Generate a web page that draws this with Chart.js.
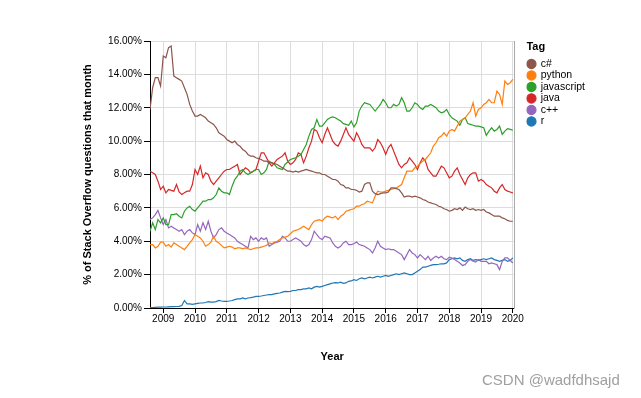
<!DOCTYPE html>
<html>
<head>
<meta charset="utf-8">
<title>Stack Overflow questions by tag</title>
<script src="https://cdn.jsdelivr.net/npm/chart.js@4.4.1/dist/chart.umd.min.js"></script>
<style>
  html, body { margin: 0; padding: 0; background: #fff; }
  #wrap { position: relative; width: 641px; height: 398px; }
  #mark { position: absolute; left: 482px; top: 371px; font: 15px "Liberation Sans", Arial, sans-serif; color: #a0a0a0; white-space: nowrap; }
</style>
</head>
<body>
<div id="wrap">
  <canvas id="chart" width="641" height="398"></canvas>
  <div id="mark">CSDN @wadfdhsajd</div>
</div>
<script>
// monthly share of questions (%), first month is Aug 2008, last is Jan 2020
const startYear = 2008;
const startMonth = 8;

const tags = ['c#', 'python', 'javascript', 'java', 'c++', 'r'];
const colors = ['#8c564b', '#ff7f0e', '#2ca02c', '#d62728', '#9467bd', '#1f77b4'];

const csharp = [
  11.9, 13.2, 13.8, 13.8, 13.3,
  15.1, 15.0, 15.6, 15.7, 13.9, 13.8, 13.7, 13.6, 13.2, 12.8, 12.2, 11.8,
  11.5, 11.5, 11.6, 11.5, 11.4, 11.2, 11.1, 11.0, 10.8, 10.5, 10.4, 10.3,
  10.1, 10.0, 9.9, 10.0, 9.8, 9.7, 9.5, 9.4, 9.2, 9.1, 9.1, 9.0,
  8.95, 8.9, 8.8, 8.8, 8.7, 8.7, 8.65, 8.6, 8.5, 8.4, 8.3, 8.2,
  8.2, 8.15, 8.2, 8.15, 8.2, 8.25, 8.3, 8.25, 8.2, 8.15, 8.1, 8.1,
  8.0, 8.0, 7.9, 7.8, 7.7, 7.7, 7.6, 7.4, 7.35, 7.2, 7.2, 7.1,
  7.1, 7.05, 6.95, 7.0, 7.4, 7.5, 7.5, 7.0, 6.85, 6.8, 6.85, 6.9,
  6.9, 6.95, 7.2, 7.2, 7.15, 7.1, 6.9, 6.65, 6.7, 6.7, 6.65, 6.7,
  6.65, 6.6, 6.5, 6.45, 6.35, 6.3, 6.25, 6.2, 6.1, 6.05, 5.95, 5.9,
  5.8, 5.85, 5.95, 5.9, 6.0, 5.85, 6.05, 5.95, 5.9, 5.95, 5.85, 5.9,
  5.85, 5.9, 5.75, 5.7, 5.6, 5.5, 5.5, 5.5, 5.4, 5.35, 5.25, 5.2,
  5.2
];

const python = [
  3.8, 3.8, 3.6, 3.7, 3.95,
  3.95, 3.7, 3.8, 3.65, 3.9, 3.8, 3.7, 3.6, 3.5, 3.7, 3.9, 4.1,
  4.4, 4.3, 4.2, 4.0, 3.7, 3.8, 3.95, 4.3, 4.0, 3.9, 3.75, 3.6,
  3.65, 3.7, 3.65, 3.55, 3.6, 3.6, 3.55, 3.6, 3.55, 3.5, 3.55, 3.6,
  3.6, 3.65, 3.7, 3.75, 3.9, 3.85, 3.95, 4.0, 4.1, 4.2, 4.25, 4.3,
  4.45, 4.6, 4.65, 4.7, 4.8, 4.9, 4.8, 4.7, 5.0, 5.2, 5.25, 5.3,
  5.2, 5.4, 5.5, 5.45, 5.4, 5.5, 5.3, 5.5, 5.6, 5.8, 5.85, 5.9,
  5.95, 6.1, 6.1, 6.2, 6.25, 6.4, 6.35, 6.3, 6.7, 7.0, 6.95, 6.95,
  7.0, 7.05, 7.1, 7.15, 7.2, 7.3, 7.4, 7.8, 8.2, 8.2, 8.2, 8.4,
  8.5, 8.65, 8.8, 8.9, 9.1, 9.3, 9.7, 9.9, 10.2, 10.3, 10.5, 10.3,
  10.6, 10.7, 10.6, 10.9, 11.2, 11.3, 11.4, 11.6, 11.8, 12.3, 11.5, 11.9,
  12.0, 12.2, 12.3, 12.5, 12.3, 12.3, 13.0, 12.8, 12.2, 13.6, 13.4, 13.5,
  13.7
];

const javascript = [
  4.6, 5.1, 4.7, 5.3, 5.1,
  5.4, 5.0, 5.0, 5.6, 5.6, 5.65, 5.5, 5.4, 5.8, 6.0, 6.1, 5.9,
  5.8, 6.0, 6.2, 6.4, 6.4, 6.5, 6.5, 6.6, 6.8, 7.2, 7.0, 6.9,
  6.9, 6.8, 7.3, 7.7, 7.9, 8.2, 8.3, 8.1, 8.0, 8.1, 8.2, 8.3,
  8.3, 8.0, 8.1, 8.3, 8.8, 8.7, 8.6, 8.4, 8.35, 8.3, 8.6, 8.75,
  8.9, 8.95, 9.0, 9.1, 9.2, 9.5, 9.8, 10.3, 10.7, 10.8, 11.3, 10.9,
  10.9, 11.1, 11.3, 11.4, 11.45, 11.4, 11.3, 11.2, 11.05, 11.0, 10.95, 11.2,
  10.85, 11.1, 11.8, 12.1, 12.3, 12.25, 12.2, 12.0, 11.8, 12.0, 12.2, 12.5,
  12.3, 12.0, 12.0, 12.2, 12.1, 12.2, 12.6, 12.3, 11.8, 11.8, 12.0, 12.3,
  12.2, 12.0, 11.9, 12.1, 12.1, 12.2, 12.1, 12.0, 11.8, 11.7, 11.75, 11.9,
  11.6, 11.4, 11.3, 11.2, 10.95, 11.3, 11.4, 11.05, 11.0, 10.95, 10.9, 10.9,
  10.85, 10.8, 10.35, 10.6, 10.8, 10.6, 10.7, 10.9, 10.4, 10.6, 10.75, 10.7,
  10.65
];

const java = [
  8.2, 8.1, 8.0, 7.6, 7.1,
  7.3, 6.9, 7.1, 7.05, 7.0, 7.4, 6.95, 6.8, 6.9, 7.0, 7.0, 7.4,
  8.3, 8.0, 8.5, 7.8, 8.1, 8.0, 7.6, 7.4, 7.6, 7.8, 8.0, 8.2,
  8.3, 8.3, 8.4, 8.5, 8.6, 8.0, 8.2, 8.4, 8.3, 8.1, 8.2, 8.3,
  8.8, 9.3, 9.3, 9.0, 8.7, 8.5, 8.7, 8.9, 9.0, 9.1, 9.3, 8.8,
  8.6, 8.7, 8.9, 9.3, 9.2, 8.7, 9.1, 9.6, 10.0, 10.7, 10.6, 10.2,
  9.9, 10.4, 10.8, 10.4, 10.0, 9.8, 9.7, 10.0, 10.4, 10.8, 10.4, 10.2,
  10.0, 10.5, 10.2, 9.8, 9.6, 9.6, 9.6, 9.4, 9.6, 10.1, 9.9, 9.6,
  9.2, 9.6, 9.8, 9.4, 9.0, 8.6, 8.4, 8.6, 8.7, 9.0, 8.8, 8.6,
  8.3, 8.7, 9.0, 8.8, 8.3, 8.1, 7.9, 7.9, 8.2, 8.5, 8.4, 8.1,
  7.8, 7.9, 8.2, 8.4, 8.0, 7.7, 7.4, 7.8, 8.0, 8.1, 8.1, 7.6,
  7.7, 7.6, 7.4, 7.3, 7.2, 7.0, 6.9, 7.2, 7.4, 7.1, 7.0, 6.95,
  6.9
];

const cpp = [
  5.3, 5.4, 5.6, 5.85, 5.4,
  5.0, 5.3, 4.8, 4.9, 4.8, 4.7, 4.6, 4.7, 4.4, 4.6, 4.7, 4.5,
  4.4, 5.0, 4.6, 5.1, 4.7, 5.2, 4.6, 4.2, 4.4, 4.7, 4.8, 4.6,
  4.5, 4.4, 4.3, 4.2, 4.0, 3.9, 3.8, 3.7, 3.6, 4.3, 4.1, 4.2,
  4.0, 4.2, 4.1, 4.2, 3.7, 3.8, 3.9, 3.95, 4.0, 4.3, 4.2, 4.0,
  4.0, 4.1, 4.2, 4.1, 4.0, 3.8, 3.7, 3.8, 4.1, 4.6, 4.4, 4.2,
  4.1, 4.3, 4.25, 4.2, 3.9, 3.7, 3.6, 3.7, 3.9, 4.0, 3.8, 3.8,
  3.85, 3.95, 3.8, 3.75, 3.7, 3.6, 3.5, 3.3, 3.6, 4.0, 3.7, 3.6,
  3.5, 3.55, 3.5, 3.5, 3.4, 3.3, 3.2, 2.9, 3.2, 3.5, 3.3, 3.2,
  3.0, 3.2, 3.05, 2.9, 3.1, 2.85, 3.0, 3.1, 3.0, 3.1, 2.95, 2.9,
  3.05, 3.0, 2.9, 2.8, 2.7, 2.55, 2.6, 2.8, 2.9, 2.8, 2.75, 2.9,
  2.8, 2.8, 2.8, 2.65, 2.7, 2.65, 2.6, 2.3, 2.8, 3.0, 3.0, 2.85,
  2.7
];

const r = [
  0.02, 0.03, 0.04, 0.05, 0.05,
  0.06, 0.06, 0.07, 0.08, 0.08, 0.09, 0.1, 0.15, 0.45, 0.25, 0.25, 0.22,
  0.25, 0.28, 0.3, 0.3, 0.33, 0.38, 0.35, 0.35, 0.38, 0.45, 0.42, 0.4,
  0.4, 0.42, 0.45, 0.5, 0.55, 0.55, 0.6, 0.55, 0.6, 0.62, 0.65, 0.7,
  0.7, 0.72, 0.75, 0.78, 0.8, 0.8, 0.85, 0.88, 0.9, 0.95, 1.0, 0.98,
  1.0, 1.05, 1.05, 1.1, 1.1, 1.15, 1.15, 1.2, 1.15, 1.25, 1.3, 1.25,
  1.3, 1.35, 1.4, 1.45, 1.5, 1.52, 1.5, 1.55, 1.48, 1.5, 1.6, 1.62,
  1.7, 1.65, 1.75, 1.8, 1.75, 1.8, 1.85, 1.8, 1.85, 1.9, 1.85, 1.9,
  1.95, 1.9, 1.95, 2.0, 2.05, 2.0, 2.05, 2.1, 2.05, 2.0, 2.0, 2.1,
  2.2, 2.3, 2.45, 2.45, 2.5, 2.55, 2.6, 2.6, 2.62, 2.65, 2.65, 2.7,
  2.9, 2.95, 3.0, 2.95, 3.0, 2.85, 2.8, 2.9, 2.95, 2.85, 2.9, 2.85,
  2.9, 2.95, 2.9, 2.95, 3.0, 2.9, 2.85, 2.8, 2.85, 2.9, 2.8, 2.85,
  3.0
];

const yearTicks = [2009, 2010, 2011, 2012, 2013, 2014, 2015, 2016, 2017, 2018, 2019, 2020];
const percentTicks = [0, 2, 4, 6, 8, 10, 12, 14, 16];

const series = [csharp, python, javascript, java, cpp, r];
const FONT = '"Liberation Sans", Arial, Helvetica, sans-serif';

// month index -> decimal year (Jan 2009 lands on the 2009 tick)
const toYear = i => startYear + (startMonth - 1 + i) / 12;

const datasets = series.map((values, k) => ({
  label: tags[k],
  data: values.map((v, i) => ({ x: toYear(i), y: v })),
  borderColor: colors[k],
  backgroundColor: colors[k],
  borderWidth: 1.2,
  pointRadius: 0,
  tension: 0
}));

const ctx = document.getElementById('chart').getContext('2d');

new Chart(ctx, {
  type: 'line',
  data: { datasets },
  options: {
    responsive: false,
    animation: false,
    layout: {
      padding: { left: 81, top: 41, right: 46, bottom: 30 }
    },
    plugins: {
      tooltip: { enabled: false },
      legend: {
        position: 'right',
        align: 'start',
        title: {
          display: true,
          text: 'Tag',
          position: 'start',
          color: '#000',
          font: { family: FONT, size: 11, weight: 'bold' },
          padding: { top: 0, bottom: 3.5 }
        },
        labels: {
          usePointStyle: true,
          pointStyle: 'circle',
          boxWidth: 8,
          boxHeight: 6.5,
          padding: 1,
          color: '#000',
          font: { family: FONT, size: 10.5 }
        }
      }
    },
    scales: {
      x: {
        type: 'linear',
        min: toYear(0),
        max: 2020.05,
        afterBuildTicks: scale => {
          scale.ticks = yearTicks.map(v => ({ value: v }));
        },
        afterFit: scale => {
          scale.height = 60;
        },
        ticks: {
          color: '#000',
          padding: 0,
          maxRotation: 0,
          font: { family: FONT, size: 10 },
          callback: v => String(v)
        },
        grid: { color: '#ddd', tickColor: '#000', tickLength: 5 },
        border: { color: '#000' },
        title: {
          display: true,
          text: 'Year',
          color: '#000',
          font: { family: FONT, size: 11, weight: 'bold' },
          padding: { top: 0, bottom: 4 }
        }
      },
      y: {
        min: 0,
        max: 16,
        afterBuildTicks: scale => {
          scale.ticks = percentTicks.map(v => ({ value: v }));
        },
        afterFit: scale => {
          scale.width = 69;
        },
        ticks: {
          color: '#000',
          padding: 2,
          font: { family: FONT, size: 10 },
          callback: v => v.toFixed(2) + '%'
        },
        grid: { color: '#ddd', tickColor: '#000', tickLength: 6 },
        border: { color: '#000' },
        title: {
          display: true,
          text: '% of Stack Overflow questions that month',
          color: '#000',
          font: { family: FONT, size: 11, weight: 'bold' },
          padding: { top: 0, bottom: 0 }
        }
      },
      // empty right-hand axis: draws the plot frame and spaces the legend off the plot
      frame: {
        position: 'right',
        ticks: { display: false },
        grid: { display: false },
        border: { display: true, color: '#aaa' },
        afterFit: scale => {
          scale.width = 12;
        }
      }
    }
  }
});
</script>
</body>
</html>
